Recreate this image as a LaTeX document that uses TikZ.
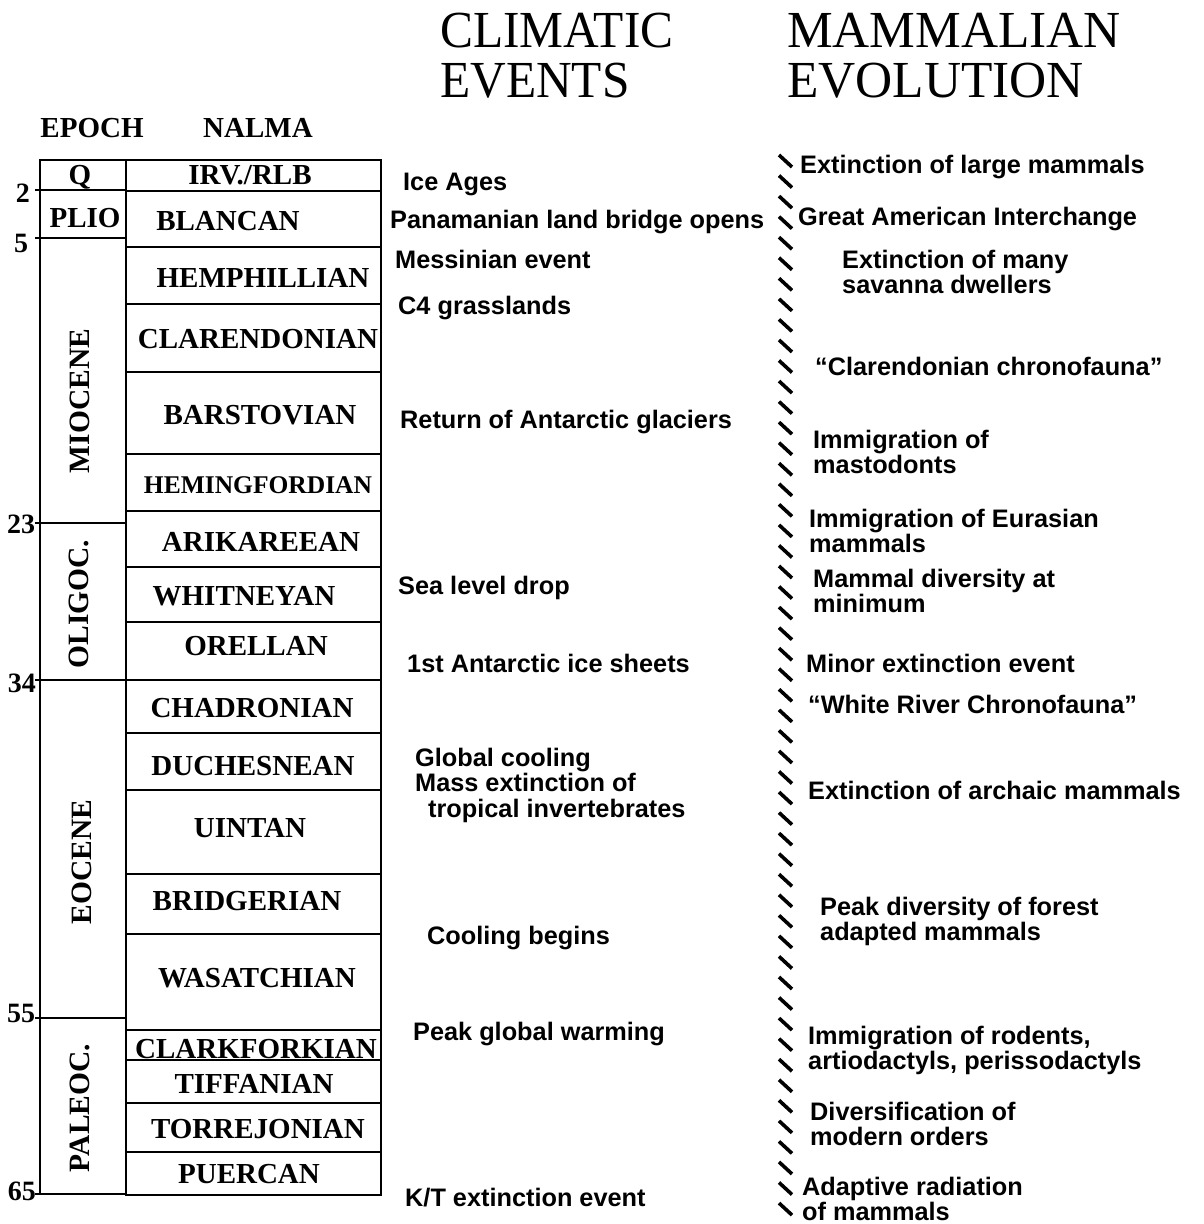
\documentclass[tikz,border=0pt]{standalone}
\usepackage{fontspec}
\setmainfont{Liberation Serif}
\newfontfamily\hv[Ligatures=TeX]{Liberation Sans}
\newcommand{\mytwo}[2]{\vtop{\hbox{#1}\hbox{#2}}}
\begin{document}
\begin{tikzpicture}[x=1pt,y=-1pt,
  tbl/.style={line width=2.2pt},
  nal/.style={font=\bfseries\fontsize{29}{30}\selectfont, inner sep=0pt, anchor=base},
  epo/.style={font=\bfseries\fontsize{29.5}{30}\selectfont, inner sep=0pt, rotate=90, anchor=center},
  num/.style={font=\bfseries\fontsize{28}{30}\selectfont, inner sep=0pt, anchor=center},
  ev/.style={font=\hv\bfseries\fontsize{25.3}{25.5}\selectfont, inner sep=0pt, anchor=base west},
  hdr/.style={font=\fontsize{52}{50}\selectfont, inner sep=0pt, anchor=base west, xscale=0.95},
  hatch/.style={line width=3.6pt}
]
\useasboundingbox (0,0) rectangle (1203,1224);
\fill[white] (0,0) rectangle (1203,1224);

% headers
\node[hdr] (hclim) at (440,47) {\mytwo{CLIMATIC}{EVENTS}};
\node[hdr, xscale=1.04] (hmam) at (787,47) {\mytwo{MAMMALIAN}{EVOLUTION}};
\node[nal] (hepoch) at (92,137) {EPOCH};
\node[nal] (hnalma) at (258,137) {NALMA};

% table frame
\draw[tbl] (40,160) rectangle (126,1194);
\draw[tbl] (126,160) rectangle (381,1195);
\foreach \yy in {190,238,523,680,1018} \draw[tbl] (35,\yy) -- (126,\yy);
\draw[tbl] (35,1194) -- (40,1194);
\foreach \yy in {191,247,304,372,454,511,567,622,680,733,790,874,934,1030,1060,1103,1152}
  \draw[tbl] (126,\yy) -- (381,\yy);

% age numbers
\node[num] (n2) at (23,193) {2};
\node[num] (n5) at (21,243) {5};
\node[num] (n23) at (21,524) {23};
\node[num] (n34) at (22,683) {34};
\node[num] (n55) at (21,1013) {55};
\node[num] (n65) at (22,1191) {65};

% epochs
\node[nal] (eq) at (80,184) {Q};
\node[nal] (eplio) at (85,227) {PLIO};
\node[epo] (emio) at (80,401) {MIOCENE};
\node[epo] (eoli) at (79,604) {OLIGOC.};
\node[epo] (eeoc) at (82,862) {EOCENE};
\node[epo] (epal) at (80,1108) {PALEOC.};

% NALMA
\node[nal] (irv) at (250,184) {IRV./RLB};
\node[nal] (bla) at (228,230) {BLANCAN};
\node[nal] (hem) at (263,287) {HEMPHILLIAN};
\node[nal] (cla) at (258,348) {CLARENDONIAN};
\node[nal] (bar) at (260,424) {BARSTOVIAN};
\node[nal,font=\bfseries\fontsize{25.5}{27}\selectfont] (hmg) at (258,493) {HEMINGFORDIAN};
\node[nal] (ari) at (261,551) {ARIKAREEAN};
\node[nal] (whi) at (244,605) {WHITNEYAN};
\node[nal] (ore) at (256,655) {ORELLAN};
\node[nal] (cha) at (252,717) {CHADRONIAN};
\node[nal] (duc) at (253,775) {DUCHESNEAN};
\node[nal] (uin) at (250,837) {UINTAN};
\node[nal] (bri) at (247,910) {BRIDGERIAN};
\node[nal] (was) at (257,987) {WASATCHIAN};
\node[nal] (clk) at (256,1058) {CLARKFORKIAN};
\node[nal] (tif) at (254,1093) {TIFFANIAN};
\node[nal] (tor) at (258,1138) {TORREJONIAN};
\node[nal] (pue) at (249,1183) {PUERCAN};

% climatic events
\node[ev] (c1) at (403,190) {Ice Ages};
\node[ev] (c2) at (390,228) {Panamanian land bridge opens};
\node[ev] (c3) at (395,268) {Messinian event};
\node[ev] (c4) at (398,314) {C4 grasslands};
\node[ev] (c5) at (400,428) {Return of Antarctic glaciers};
\node[ev] (c6) at (398,594) {Sea level drop};
\node[ev] (c7) at (407,672) {1st Antarctic ice sheets};
\node[ev] (c8) at (415,766) {\vtop{\hbox{Global cooling}\hbox{Mass extinction of}\hbox{\hspace{13pt}tropical invertebrates}}};
\node[ev] (c9) at (427,944) {Cooling begins};
\node[ev] (c10) at (413,1040) {Peak global warming};
\node[ev] (c11) at (405,1206) {K/T extinction event};

% hatched divider
\foreach \i in {0,...,51} \draw[hatch] (779,{155+20.55*\i}) -- ++(13,12);

% mammalian evolution
\node[ev] (m1) at (800,173) {Extinction of large mammals};
\node[ev] (m2) at (798,225) {Great American Interchange};
\node[ev] (m3) at (842,268) {\mytwo{Extinction of many}{savanna dwellers}};
\node[ev] (m4) at (815,375) {“Clarendonian chronofauna”};
\node[ev] (m5) at (813,448) {\mytwo{Immigration of}{mastodonts}};
\node[ev] (m6) at (809,527) {\mytwo{Immigration of Eurasian}{mammals}};
\node[ev] (m7) at (813,587) {\mytwo{Mammal diversity at}{minimum}};
\node[ev] (m8) at (806,672) {Minor extinction event};
\node[ev] (m9) at (808,713) {“White River Chronofauna”};
\node[ev] (m10) at (808,799) {Extinction of archaic mammals};
\node[ev] (m11) at (820,915) {\mytwo{Peak diversity of forest}{adapted mammals}};
\node[ev] (m12) at (808,1044) {\mytwo{Immigration of rodents,}{artiodactyls, perissodactyls}};
\node[ev] (m13) at (810,1120) {\mytwo{Diversification of}{modern orders}};
\node[ev] (m14) at (802,1195) {\mytwo{Adaptive radiation}{of mammals}};
\end{tikzpicture}
\end{document}
